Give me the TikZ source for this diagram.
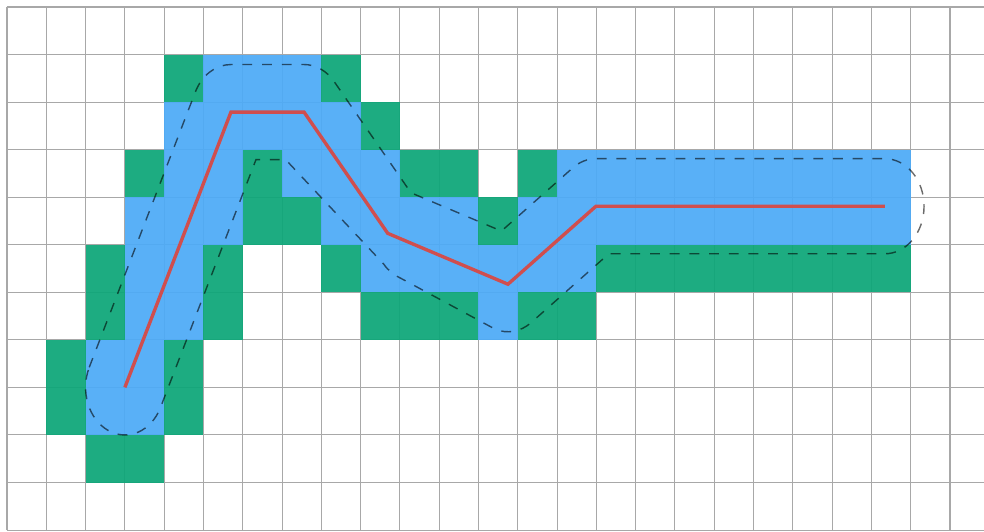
\documentclass[tikz,border=0pt]{standalone}
\begin{document}
\begin{tikzpicture}[x=0.98225cm, y=-1.18875cm,
  gridline/.style={draw={rgb,255:red,168;green,168;blue,168}, line width=0.75pt},
  gcellfill/.style={fill={rgb,255:red,12;green,166;blue,120}, fill opacity=0.93},
  bcellfill/.style={fill={rgb,255:red,77;green,171;blue,247}, fill opacity=0.93},
  redpath/.style={draw={rgb,255:red,208;green,78;blue,78}, line width=2.4pt, line join=miter},
  bufoutline/.style={draw=black, draw opacity=0.58, line width=1pt, dash pattern=on 7pt off 7pt,
    x radius=0.98225cm, y radius=1.18875cm}]
\useasboundingbox (-0.178,-0.147) rectangle (24.866,11.041);
\fill[white] (-0.178,-0.147) rectangle (24.866,11.041);
% grid
\foreach \i in {0,...,24} \draw[gridline] (\i,0) -- (\i,11);
\foreach \j in {0,...,11} \draw[gridline] (0,\j) -- (24.866,\j);
% green cells
\foreach \c/\r in {4/1, 8/1, 9/2, 3/3, 6/3, 10/3, 11/3, 13/3, 6/4, 7/4, 12/4,
  2/5, 5/5, 8/5, 2/6, 5/6, 9/6, 10/6, 11/6, 13/6, 14/6, 1/7, 4/7, 1/8, 4/8, 2/9, 3/9}
  \fill[gcellfill] (\c,\r) rectangle ++(1,1);
\fill[gcellfill] (15,5) rectangle (23,6);
% blue cells
\foreach \c/\r in {5/1, 6/1, 7/1, 4/3, 5/3, 7/3, 8/3, 9/3, 3/4, 4/4, 5/4,
  3/5, 4/5, 3/6, 4/6, 12/6, 2/7, 3/7, 2/8, 3/8}
  \fill[bcellfill] (\c,\r) rectangle ++(1,1);
\fill[bcellfill] (4,2) rectangle (9,3);
\fill[bcellfill] (14,3) rectangle (23,4);
\fill[bcellfill] (8,4) rectangle (12,5);
\fill[bcellfill] (13,4) rectangle (23,5);
\fill[bcellfill] (9,5) rectangle (15,6);
% path points
\coordinate (p0) at (3.0,8.0);
\coordinate (p1) at (5.70,2.21);
\coordinate (p2) at (7.56,2.21);
\coordinate (p3) at (9.69,4.76);
\coordinate (p4) at (12.75,5.83);
\coordinate (p5) at (14.99,4.19);
\coordinate (p6) at (22.34,4.19);
% buffer outline
\draw[bufoutline] (2.0936,7.5773) -- (4.7936,1.7873)
  arc[start angle=155, end angle=90]
  -- (7.56,1.21) arc[start angle=90, end angle=39.87]
  -- (10.2806,3.9071) -- (12.5837,4.7124) -- (14.3993,3.3831)
  arc[start angle=126.21, end angle=90]
  -- (22.34,3.19) arc[start angle=90, end angle=-90]
  -- (15.3169,5.19) -- (13.3407,6.6369)
  arc[start angle=-53.79, end angle=-109.27]
  -- (10.0201,5.704) arc[start angle=-109.27, end angle=-140.13]
  -- (7.0923,3.21) -- (6.3371,3.21) -- (3.9064,8.4227)
  arc[start angle=-25, end angle=-205] -- cycle;
% red polyline
\draw[redpath] (p0) -- (p1) -- (p2) -- (p3) -- (p4) -- (p5) -- (p6);
\end{tikzpicture}
\end{document}
